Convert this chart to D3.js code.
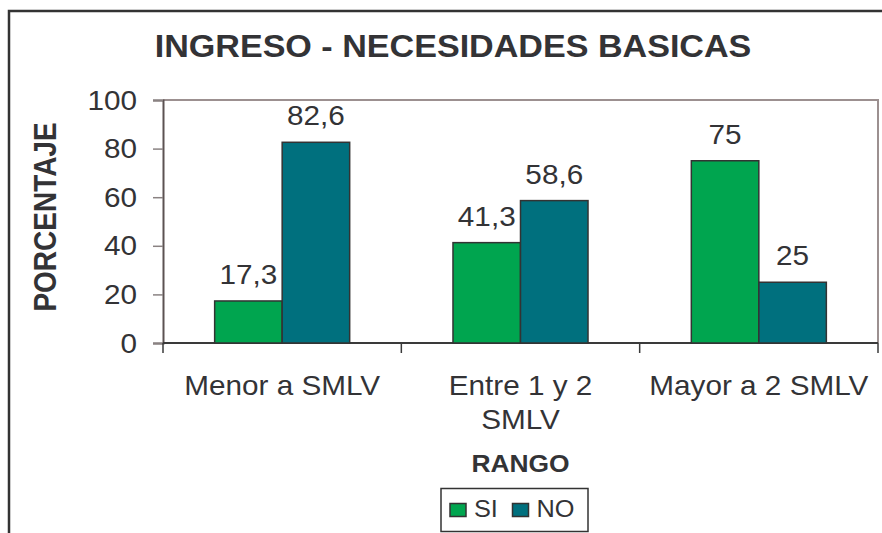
<!DOCTYPE html>
<html>
<head>
<meta charset="utf-8">
<script src="https://cdn.jsdelivr.net/npm/d3@7/dist/d3.min.js"></script>
<style>
  html, body { margin: 0; padding: 0; background: #fff; }
  svg { display: block; font-family: "Liberation Sans", Arial, sans-serif; }
</style>
</head>
<body>
<svg id="chart" width="882" height="533"></svg>
<script>
// Data
const title = "INGRESO - NECESIDADES BASICAS";
const categories = [["Menor a SMLV"], ["Entre 1 y 2", "SMLV"], ["Mayor a 2 SMLV"]];
const categoryKeys = ["Menor a SMLV", "Entre 1 y 2 SMLV", "Mayor a 2 SMLV"];
const seriesNames = ["SI", "NO"];
const siValues = [17.3, 41.3, 75];
const noValues = [82.6, 58.6, 25];
const valueLabels = [["17,3", "41,3", "75"], ["82,6", "58,6", "25"]];
const yTicks = [0, 20, 40, 60, 80, 100];
const yTitle = "PORCENTAJE";
const xTitle = "RANGO";
const colors = ["#00a54f", "#00707e"];

const ink = "#333336";
const sx = 1.1; // horizontal text stretch

const svg = d3.select("#chart");

// outer chart border (runs past the right and bottom edges)
svg.append("rect")
  .attr("x", 9).attr("y", 11)
  .attr("width", 900).attr("height", 560)
  .attr("fill", "none").attr("stroke", "#333").attr("stroke-width", 2.5);

const plot = { left: 163, right: 878, top: 100, bottom: 343 };

const x = d3.scaleBand().domain(categoryKeys).range([plot.left, plot.right]).padding(0);
const xs = d3.scaleBand().domain(seriesNames).range([0, x.bandwidth()]).paddingInner(0).paddingOuter(0.765);
const y = d3.scaleLinear().domain([0, 100]).range([plot.bottom, plot.top]);

// plot frame: top and right edges
svg.append("path")
  .attr("d", `M${plot.left},${y(100)}H${plot.right}V${y(0)}`)
  .attr("fill", "none").attr("stroke", "#9c9090").attr("stroke-width", 2);

// y axis
const yAxis = d3.axisLeft(y).tickValues(yTicks).tickSize(10).tickFormat("");
const gy = svg.append("g").attr("transform", `translate(${plot.left},0)`).call(yAxis);
gy.select(".domain").attr("stroke", "#5c5252").attr("stroke-width", 2);
gy.selectAll(".tick line").attr("stroke", "#8a8282").attr("stroke-width", 1.5);

svg.append("g").selectAll("text").data(yTicks).join("text")
  .attr("transform", d => `translate(137,${y(d) + 9.5}) scale(${sx},1)`)
  .attr("text-anchor", "end")
  .attr("font-size", 27).attr("fill", ink)
  .text(d => d);

// x axis with ticks at category boundaries
const bounds = categoryKeys.map(c => x(c)).concat([plot.right]);
svg.append("line")
  .attr("x1", plot.left).attr("x2", plot.right)
  .attr("y1", y(0)).attr("y2", y(0))
  .attr("stroke", "#3a3a3a").attr("stroke-width", 2);
svg.append("g").selectAll("line").data(bounds).join("line")
  .attr("x1", d => d).attr("x2", d => d)
  .attr("y1", y(0)).attr("y2", y(0) + 10)
  .attr("stroke", "#3a3a3a").attr("stroke-width", 1.5);

// bars
const rows = categoryKeys.map((c, i) => ({ cat: c, vals: [siValues[i], noValues[i]], i }));
const groups = svg.append("g").selectAll("g").data(rows).join("g")
  .attr("transform", d => `translate(${x(d.cat)},0)`);

groups.selectAll("rect").data(d => d.vals.map((v, s) => ({ v, s }))).join("rect")
  .attr("x", d => xs(seriesNames[d.s]))
  .attr("y", d => y(d.v))
  .attr("width", xs.bandwidth())
  .attr("height", d => y(0) - y(d.v))
  .attr("fill", d => colors[d.s])
  .attr("stroke", "#333").attr("stroke-width", 1.5);

groups.selectAll("text").data(d => d.vals.map((v, s) => ({ v, s, i: d.i }))).join("text")
  .attr("transform", d => `translate(${xs(seriesNames[d.s]) + xs.bandwidth() / 2},${y(d.v) - 17}) scale(${sx},1)`)
  .attr("text-anchor", "middle")
  .attr("font-size", 27).attr("fill", ink)
  .text(d => valueLabels[d.s][d.i]);

// category labels
categories.forEach((lines, i) => {
  lines.forEach((line, j) => {
    svg.append("text")
      .attr("transform", `translate(${x(categoryKeys[i]) + x.bandwidth() / 2},${395 + j * 34}) scale(${sx},1)`)
      .attr("text-anchor", "middle")
      .attr("font-size", 27).attr("fill", ink)
      .text(line);
  });
});

// titles
svg.append("text")
  .attr("transform", `translate(453,57) scale(${sx},1)`)
  .attr("text-anchor", "middle")
  .attr("font-size", 31).attr("font-weight", "bold").attr("fill", ink)
  .text(title);

svg.append("text")
  .attr("transform", `translate(${(plot.left + plot.right) / 2},472) scale(${sx},1)`)
  .attr("text-anchor", "middle")
  .attr("font-size", 24).attr("font-weight", "bold").attr("fill", ink)
  .text(xTitle);

svg.append("text")
  .attr("transform", `translate(56,217) scale(${sx},1) rotate(-90)`)
  .attr("text-anchor", "middle")
  .attr("font-size", 28).attr("font-weight", "bold").attr("fill", ink)
  .text(yTitle);

// legend
const lg = svg.append("g");
lg.append("rect")
  .attr("x", 441).attr("y", 488.5).attr("width", 147).attr("height", 43)
  .attr("fill", "#fff").attr("stroke", "#333").attr("stroke-width", 1.5);
const items = lg.selectAll("g").data(seriesNames).join("g")
  .attr("transform", (d, i) => `translate(${450 + i * 62.5},0)`);
items.append("rect")
  .attr("x", 0).attr("y", 503.5).attr("width", 16).attr("height", 13)
  .attr("fill", (d, i) => colors[i]).attr("stroke", "#333").attr("stroke-width", 1.5);
items.append("text")
  .attr("transform", `translate(24,517) scale(${sx},1)`)
  .attr("font-size", 23).attr("fill", ink)
  .text(d => d);
</script>
</body>
</html>
